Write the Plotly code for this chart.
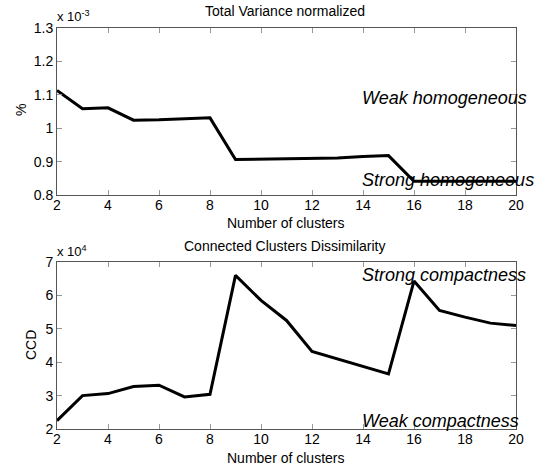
import plotly.graph_objects as go

clusters = list(range(2, 21))
total_variance = [1.113e-3, 1.058e-3, 1.061e-3, 1.024e-3, 1.025e-3, 1.028e-3, 1.031e-3,
                  0.906e-3, 0.907e-3, 0.908e-3, 0.909e-3, 0.911e-3, 0.915e-3, 0.918e-3,
                  0.841e-3, 0.841e-3, 0.841e-3, 0.841e-3, 0.841e-3]
ccd = [22500, 30000, 30600, 32700, 33100, 29600, 30400, 66000, 58500, 52500, 43200,
       41000, 38800, 36500, 64300, 55500, 53500, 51700, 51000]

x_ticks = list(range(2, 21, 2))
tv_ticks = [0.8e-3, 0.9e-3, 1.0e-3, 1.1e-3, 1.2e-3, 1.3e-3]
tv_ticktext = ["0.8", "0.9", "1", "1.1", "1.2", "1.3"]
ccd_ticks = [20000, 30000, 40000, 50000, 60000, 70000]
ccd_ticktext = ["2", "3", "4", "5", "6", "7"]

FONT = "Liberation Sans, Arial, sans-serif"

fig = go.Figure()
fig.add_trace(go.Scatter(x=clusters, y=total_variance, mode="lines",
                         line=dict(color="black", width=3), xaxis="x", yaxis="y",
                         showlegend=False))
fig.add_trace(go.Scatter(x=clusters, y=ccd, mode="lines",
                         line=dict(color="black", width=3), xaxis="x2", yaxis="y2",
                         showlegend=False))

axis_common = dict(showgrid=False, zeroline=False, showline=True, linecolor="#555555",
                   linewidth=1, mirror="ticks", ticks="inside", ticklen=5, automargin=False,
                   tickcolor="#999999", tickfont=dict(family=FONT, size=14, color="black"))

xd = [57 / 540, 516 / 540]
fig.update_layout(
    template="none",
    width=540, height=470, margin=dict(l=0, r=0, t=0, b=0, pad=0),
    paper_bgcolor="white", plot_bgcolor="white",
    font=dict(family=FONT, color="black"),
    xaxis=dict(domain=xd, range=[2, 20], tickvals=x_ticks, anchor="y",
               ticklabelstandoff=-3, **axis_common),
    yaxis=dict(domain=[1 - 195 / 470, 1 - 28 / 470], range=[0.8e-3, 1.3e-3],
               tickvals=tv_ticks, ticktext=tv_ticktext, anchor="x", **axis_common),
    xaxis2=dict(domain=xd, range=[2, 20], tickvals=x_ticks, anchor="y2",
                ticklabelstandoff=-3, **axis_common),
    yaxis2=dict(domain=[1 - 429 / 470, 1 - 262 / 470], range=[20000, 70000],
                tickvals=ccd_ticks, ticktext=ccd_ticktext, anchor="x2", **axis_common),
)

def px_ann(text, x, y, size=14, angle=0, xanchor="center", yanchor="middle"):
    fig.add_annotation(text=text, x=x / 540, y=1 - y / 470, xref="paper", yref="paper",
                       showarrow=False, textangle=angle, xanchor=xanchor, yanchor=yanchor,
                       font=dict(family=FONT, size=size, color="black"))

px_ann("Total Variance normalized", 285, 11)
px_ann("Number of clusters", 285, 223)
px_ann("%", 21, 110, angle=-90)
px_ann("x 10<sup>-3</sup>", 55, 16, size=13, xanchor="left")

px_ann("Connected Clusters Dissimilarity", 285, 246)
px_ann("Number of clusters", 285, 458)
px_ann("CCD", 31, 345, angle=-90)
px_ann("x 10<sup>4</sup>", 55, 251, size=13, xanchor="left")

# in-plot labels placed in data coordinates
lab_font = dict(family=FONT, size=18, style="italic", color="black")
fig.add_annotation(text="Weak homogeneous", x=13.9, y=1.090e-3, xref="x", yref="y",
                   showarrow=False, xanchor="left", yanchor="middle", font=lab_font)
fig.add_annotation(text="Strong homogeneous", x=13.9, y=0.846e-3, xref="x", yref="y",
                   showarrow=False, xanchor="left", yanchor="middle", font=lab_font)
fig.add_annotation(text="Strong compactness", x=13.9, y=66200, xref="x2", yref="y2",
                   showarrow=False, xanchor="left", yanchor="middle", font=lab_font)
fig.add_annotation(text="Weak compactness", x=13.9, y=22400, xref="x2", yref="y2",
                   showarrow=False, xanchor="left", yanchor="middle", font=lab_font)

fig.write_html("out.html", config={"displayModeBar": False},
               post_script="document.body.style.margin='0';")
